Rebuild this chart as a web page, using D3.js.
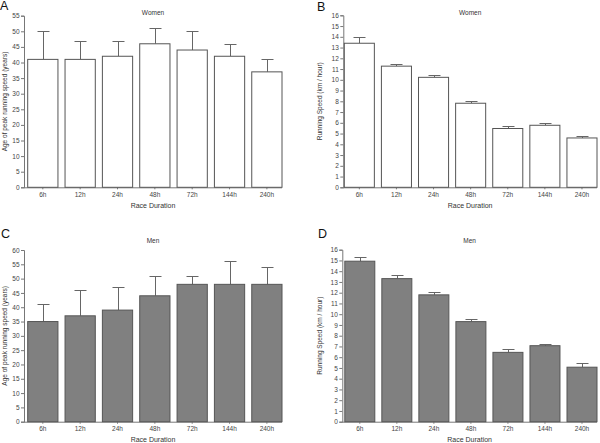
<!DOCTYPE html>
<html>
<head>
<meta charset="utf-8">
<script src="https://cdn.jsdelivr.net/npm/d3@7"></script>
<style>
  body { margin: 0; background: #fff; }
  svg { display: block; font-family: "Liberation Sans", Arial, sans-serif; }
</style>
</head>
<body>
<svg id="chart" width="600" height="443"></svg>
<script>
// race durations shared by all four panels
const durations = ['6h', '12h', '24h', '48h', '72h', '144h', '240h'];

// A: women, age of peak running speed (mean, upper error)
const womenAge = [41, 41, 42, 46, 44, 42, 37];
const womenAgeErr = [50, 47, 47, 51, 50, 46, 41];
// B: women, running speed
const womenSpeed = [13.4, 11.27, 10.23, 7.82, 5.47, 5.77, 4.59];
const womenSpeedErr = [13.95, 11.44, 10.48, 8.05, 5.67, 5.95, 4.77];
// C: men, age of peak running speed
const menAge = [35, 37, 39, 44, 48, 48, 48];
const menAgeErr = [41, 46, 47, 51, 51, 56, 54];
// D: men, running speed
const menSpeed = [14.93, 13.31, 11.8, 9.31, 6.45, 7.07, 5.07];
const menSpeedErr = [15.3, 13.68, 12.07, 9.6, 6.8, 7.2, 5.5];

const svg = d3.select('#chart');

const panels = [
  { letter: 'A', title: 'Women', values: womenAge, errs: womenAgeErr, yMax: 55,
    yLabel: 'Age of peak running speed (years)', fill: '#fff',
    left: 24, right: 282, top: 15.7, bottom: 187.3, inset: 3.7,
    letterX: 0, letterY: 10, titleY: 14.5, yLabelX: 6.5 },
  { letter: 'B', title: 'Women', values: womenSpeed, errs: womenSpeedErr, yMax: 16,
    yLabel: 'Running Speed (km / hour)', fill: '#fff',
    left: 343.3, right: 597, top: 15.3, bottom: 187.3, inset: 1,
    letterX: 317, letterY: 11, titleY: 15, yLabelX: 322 },
  { letter: 'C', title: 'Men', values: menAge, errs: menAgeErr, yMax: 60,
    yLabel: 'Age of peak running speed (years)', fill: '#808080',
    left: 24, right: 282, top: 250, bottom: 421.7, inset: 3.7,
    letterX: 1, letterY: 238, titleY: 243, yLabelX: 6.5 },
  { letter: 'D', title: 'Men', values: menSpeed, errs: menSpeedErr, yMax: 16,
    yLabel: 'Running Speed (km / hour)', fill: '#808080',
    left: 342.3, right: 597, top: 249.7, bottom: 421.7, inset: 2.5,
    letterX: 318, letterY: 238, titleY: 243, yLabelX: 322 }
];

panels.forEach(p => {
  const g = svg.append('g');
  const y = d3.scaleLinear().domain([0, p.yMax]).range([p.bottom, p.top]);
  const step = (p.right - p.left - p.inset) / 7;
  const x = d3.scaleBand().domain(durations)
    .range([p.left + p.inset, p.left + p.inset + step * 7])
    .paddingInner(0.19).paddingOuter(0).align(0);

  const ticks = d3.range(0, p.yMax + 0.001, p.yMax > 20 ? 5 : 1);
  const yAxis = g.append('g').attr('transform', `translate(${p.left},0)`)
    .call(d3.axisLeft(y).tickValues(ticks).tickSize(3).tickPadding(1.5));
  const xAxis = g.append('g').attr('transform', `translate(0,${p.bottom})`)
    .call(d3.axisBottom(x).tickSize(2).tickPadding(3).tickSizeOuter(0));
  [yAxis, xAxis].forEach(a => {
    a.select('.domain').attr('stroke', '#777').attr('stroke-width', 1);
    a.selectAll('.tick line').attr('stroke', '#777');
    a.selectAll('.tick text').attr('fill', '#444').style('font-size', '6.5px');
  });
  xAxis.select('.domain').attr('d', `M${p.left},0.5H${p.right}`);

  // error bars (upper only)
  g.selectAll('.err').data(durations).join('path')
    .attr('fill', 'none').attr('stroke', '#666').attr('stroke-width', 1)
    .attr('d', (d, i) => {
      const cx = Math.round(x(d) + x.bandwidth() / 2) + 0.5;
      const y0 = y(p.values[i]), y1 = Math.round(y(p.errs[i])) + 0.5;
      return `M${cx},${y0}V${y1}M${cx - 6},${y1}H${cx + 6}`;
    });

  g.selectAll('.bar').data(durations).join('rect')
    .attr('x', d => x(d))
    .attr('y', (d, i) => y(p.values[i]))
    .attr('width', x.bandwidth())
    .attr('height', (d, i) => p.bottom - y(p.values[i]))
    .attr('fill', p.fill).attr('stroke', '#555').attr('stroke-width', 1);

  g.append('text').attr('x', p.letterX).attr('y', p.letterY)
    .style('font-size', '12.5px').attr('fill', '#111').text(p.letter);
  g.append('text').attr('x', (p.left + p.right) / 2).attr('y', p.titleY)
    .attr('text-anchor', 'middle').style('font-size', '6.5px').attr('fill', '#333').text(p.title);
  g.append('text').attr('x', (p.left + p.right) / 2).attr('y', p.bottom + 20.5)
    .attr('text-anchor', 'middle').style('font-size', '7px').attr('fill', '#333').text('Race Duration');
  g.append('text')
    .attr('transform', `translate(${p.yLabelX},${(p.top + p.bottom) / 2}) rotate(-90)`)
    .attr('text-anchor', 'middle').style('font-size', '6.5px').attr('fill', '#333').text(p.yLabel);
});
</script>
</body>
</html>
